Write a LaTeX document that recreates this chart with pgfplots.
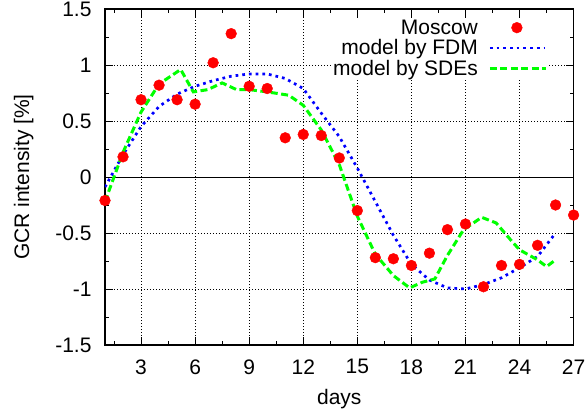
\documentclass[border=0pt]{standalone}
\usepackage{fontspec}
\setmainfont{Liberation Sans}
\usepackage{pgfplots}
\pgfplotsset{compat=1.18}

\definecolor{gpred}{RGB}{255,0,0}
\definecolor{gpblue}{RGB}{0,0,255}
\definecolor{gpgreen}{RGB}{0,255,0}

\pgfplotsset{
    legmark/.style={legend image code/.code={\draw[mark repeat=2,mark phase=2,##1] plot coordinates {(0pt,0pt) (27pt,0pt) (54pt,0pt)};}},
    legline/.style={legend image code/.code={\draw[##1] (0pt,0pt) -- (#1,0pt);}},
}

\pgfplotstableread{
x y
1 -0.21
2 0.18
3 0.69
4 0.82
5 0.69
6 0.65
7 1.02
8 1.28
9 0.81
10 0.79
11 0.35
12 0.38
13 0.37
14 0.17
15 -0.30
16 -0.72
17 -0.73
18 -0.79
19 -0.68
20 -0.47
21 -0.42
22 -0.98
23 -0.79
24 -0.78
25 -0.61
26 -0.25
27 -0.34
}\moscow

\pgfplotstableread{
x y
1 -0.09
2 0.20
3 0.45
4 0.63
5 0.74
6 0.81
7 0.86
8 0.90
9 0.92
10 0.92
11 0.88
12 0.79
13 0.57
14 0.36
15 0.08
16 -0.22
17 -0.52
18 -0.78
19 -0.92
20 -0.99
21 -1.00
22 -0.96
23 -0.90
24 -0.81
25 -0.71
26 -0.50
}\fdm

\pgfplotstableread{
x y
1 -0.22
2 0.22
3 0.58
4 0.83
5.2 0.96
5.9 0.76
6.7 0.78
7.5 0.84
8.3 0.78
9 0.78
10 0.76
11.2 0.73
12 0.64
13 0.42
14 0.11
15 -0.35
16 -0.69
17 -0.88
17.9 -0.99
18.6 -0.94
19.3 -0.91
20 -0.70
20.9 -0.47
21.9 -0.36
22.7 -0.41
23.5 -0.56
24 -0.65
25 -0.74
25.5 -0.80
26 -0.74
}\sde

\begin{document}
\begin{tikzpicture}[font=\fontsize{21}{25}\selectfont]
\path[use as bounding box] (-105pt,-67pt) rectangle (481pt,345pt);
\begin{axis}[
    scale only axis,
    width=468.6pt, height=336pt,
    xmin=1, xmax=27,
    ymin=-1.5, ymax=1.5,
    xtick={3,6,...,27},
    minor xtick={1.5,4.5,...,25.5},
    ytick={-1.5,-1,...,1.5},
    minor ytick={-1.25,-0.75,...,1.25},
    yticklabels={-1.5,-1,-0.5,0,0.5,1,1.5},
    tick align=inside,
    major tick length=8pt,
    minor tick length=4pt,
    tick style={black, line width=0.6pt},
    axis line style={black, line width=1.4pt},
    grid=major,
    major grid style={black, line width=0.6pt, dash pattern=on 1pt off 2pt},
    xlabel={days},
    ylabel={GCR intensity [\%]},
    xticklabel style={yshift=-11pt},
    yticklabel style={xshift=-10pt},
    xlabel style={yshift=-8pt},
    ylabel style={yshift=15pt},
    /pgf/number format/assume math mode=true,
    legend style={at={(1,1)}, anchor=north east, xshift=-26pt, yshift=-10pt,
        draw=none, fill=white, inner sep=0pt, row sep=3pt, column sep=10pt,
        font=\fontsize{21}{21}\selectfont,
        nodes={inner sep=0.5pt}},
    legend cell align=right,
    legend plot pos=right,
]
\addplot[black, line width=0.6pt, forget plot] coordinates {(1,0) (27,0)};
\addplot[only marks, mark=*, mark size=5.4pt, color=gpred, legmark]
    table[x=x, y=y] {\moscow};
\addplot[gpblue, line width=2.7pt, dash pattern=on 2.7pt off 4pt, no marks, legline=54pt]
    table[x=x, y=y] {\fdm};
\addplot[gpgreen, line width=3pt, dash pattern=on 7pt off 3.5pt, no marks, legline=56pt]
    table[x=x, y=y] {\sde};
\legend{Moscow, model by FDM, model by SDEs}
\end{axis}
\end{tikzpicture}
\end{document}
